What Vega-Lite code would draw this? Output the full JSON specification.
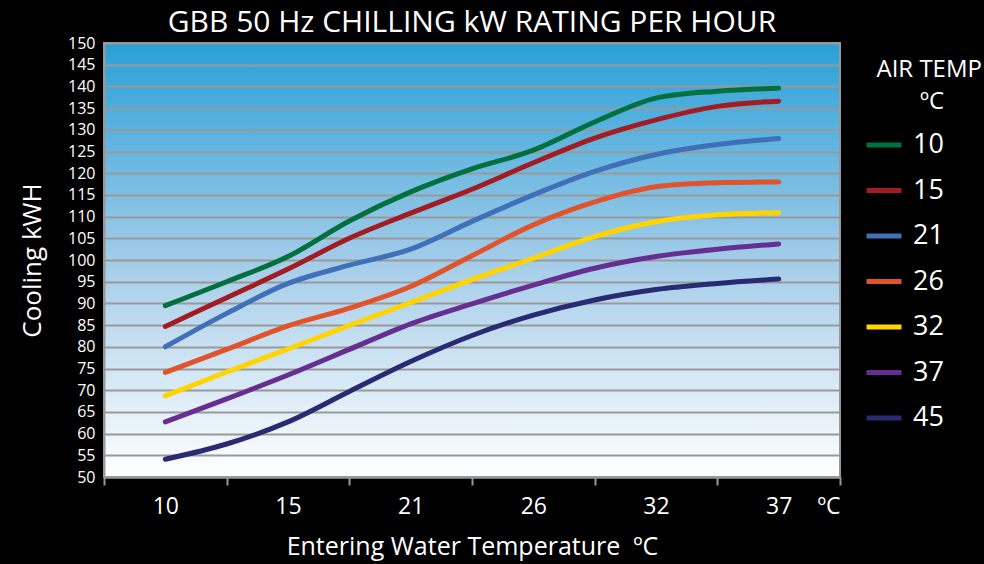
{
  "$schema": "https://vega.github.io/schema/vega-lite/v6.json",
  "autosize": {"type": "none"},
  "width": 736,
  "height": 434,
  "padding": {"left": 104, "top": 43, "right": 144, "bottom": 87},
  "background": "#000000",
  "title": {
    "text": "GBB 50 Hz CHILLING kW RATING PER HOUR",
    "font": "Open Sans",
    "fontSize": 30,
    "fontWeight": "normal",
    "color": "#ffffff",
    "anchor": "middle",
    "frame": "group",
    "offset": 2,
    "dy": 5
  },
  "data": {
    "values": [
      {"series": "10", "wt": 0, "kw": 89.5}, {"series": "10", "wt": 0.5, "kw": 95.0}, {"series": "10", "wt": 1, "kw": 100.8}, {"series": "10", "wt": 1.5, "kw": 109.0}, {"series": "10", "wt": 2, "kw": 115.7}, {"series": "10", "wt": 2.5, "kw": 121.0}, {"series": "10", "wt": 3, "kw": 125.3}, {"series": "10", "wt": 3.5, "kw": 131.8}, {"series": "10", "wt": 4, "kw": 137.3}, {"series": "10", "wt": 4.5, "kw": 138.9}, {"series": "10", "wt": 5, "kw": 139.6},
      {"series": "15", "wt": 0, "kw": 84.7}, {"series": "15", "wt": 0.5, "kw": 91.3}, {"series": "15", "wt": 1, "kw": 97.9}, {"series": "15", "wt": 1.5, "kw": 105.0}, {"series": "15", "wt": 2, "kw": 110.8}, {"series": "15", "wt": 2.5, "kw": 116.3}, {"series": "15", "wt": 3, "kw": 122.4}, {"series": "15", "wt": 3.5, "kw": 128.1}, {"series": "15", "wt": 4, "kw": 132.3}, {"series": "15", "wt": 4.5, "kw": 135.4}, {"series": "15", "wt": 5, "kw": 136.6},
      {"series": "21", "wt": 0, "kw": 80.0}, {"series": "21", "wt": 0.5, "kw": 87.7}, {"series": "21", "wt": 1, "kw": 94.6}, {"series": "21", "wt": 1.5, "kw": 98.8}, {"series": "21", "wt": 2, "kw": 102.5}, {"series": "21", "wt": 2.5, "kw": 108.9}, {"series": "21", "wt": 3, "kw": 115.0}, {"series": "21", "wt": 3.5, "kw": 120.4}, {"series": "21", "wt": 4, "kw": 124.3}, {"series": "21", "wt": 4.5, "kw": 126.6}, {"series": "21", "wt": 5, "kw": 128.0},
      {"series": "26", "wt": 0, "kw": 74.1}, {"series": "26", "wt": 0.5, "kw": 79.4}, {"series": "26", "wt": 1, "kw": 84.8}, {"series": "26", "wt": 1.5, "kw": 88.9}, {"series": "26", "wt": 2, "kw": 93.9}, {"series": "26", "wt": 2.5, "kw": 101.0}, {"series": "26", "wt": 3, "kw": 108.1}, {"series": "26", "wt": 3.5, "kw": 113.4}, {"series": "26", "wt": 4, "kw": 116.9}, {"series": "26", "wt": 4.5, "kw": 117.8}, {"series": "26", "wt": 5, "kw": 118.0},
      {"series": "32", "wt": 0, "kw": 68.7}, {"series": "32", "wt": 0.5, "kw": 74.2}, {"series": "32", "wt": 1, "kw": 79.5}, {"series": "32", "wt": 1.5, "kw": 84.9}, {"series": "32", "wt": 2, "kw": 90.2}, {"series": "32", "wt": 2.5, "kw": 95.5}, {"series": "32", "wt": 3, "kw": 100.4}, {"series": "32", "wt": 3.5, "kw": 105.4}, {"series": "32", "wt": 4, "kw": 108.8}, {"series": "32", "wt": 4.5, "kw": 110.4}, {"series": "32", "wt": 5, "kw": 110.9},
      {"series": "37", "wt": 0, "kw": 62.7}, {"series": "37", "wt": 0.5, "kw": 68.0}, {"series": "37", "wt": 1, "kw": 73.5}, {"series": "37", "wt": 1.5, "kw": 79.4}, {"series": "37", "wt": 2, "kw": 85.3}, {"series": "37", "wt": 2.5, "kw": 89.9}, {"series": "37", "wt": 3, "kw": 94.2}, {"series": "37", "wt": 3.5, "kw": 98.1}, {"series": "37", "wt": 4, "kw": 100.8}, {"series": "37", "wt": 4.5, "kw": 102.5}, {"series": "37", "wt": 5, "kw": 103.7},
      {"series": "45", "wt": 0, "kw": 54.1}, {"series": "45", "wt": 0.5, "kw": 57.6}, {"series": "45", "wt": 1, "kw": 62.7}, {"series": "45", "wt": 1.5, "kw": 69.7}, {"series": "45", "wt": 2, "kw": 76.6}, {"series": "45", "wt": 2.5, "kw": 82.6}, {"series": "45", "wt": 3, "kw": 87.3}, {"series": "45", "wt": 3.5, "kw": 90.8}, {"series": "45", "wt": 4, "kw": 93.2}, {"series": "45", "wt": 4.5, "kw": 94.6}, {"series": "45", "wt": 5, "kw": 95.6}
    ]
  },
  "mark": {"type": "line", "interpolate": "monotone", "strokeWidth": 5, "strokeCap": "round", "clip": true},
  "encoding": {
    "x": {
      "field": "wt",
      "type": "quantitative",
      "scale": {"domain": [-0.5, 5.5], "nice": false, "zero": false},
      "axis": {
        "title": "Entering Water Temperature \u00a0ºC",
        "values": [-0.5, 0, 0.5, 1, 1.5, 2, 2.5, 3, 3.5, 4, 4.5, 5, 5.5],
        "labelExpr": "datum.value == 5.5 ? 'ºC' : (datum.value % 1 == 0 ? ['10','15','21','26','32','37'][datum.value] : '')",
        "labelOverlap": false,
        "labelFlush": true,
        "grid": false,
        "domainColor": "#999999",
        "domainWidth": 2,
        "tickColor": "#999999",
        "tickWidth": 2,
        "tickSize": 8,
        "tickOpacity": {"condition": {"test": "datum.value % 1 == 0", "value": 0}, "value": 1},
        "labelFontSize": 23,
        "labelPadding": 10,
        "titleFontSize": 25,
        "titlePadding": 16
      }
    },
    "y": {
      "field": "kw",
      "type": "quantitative",
      "scale": {"domain": [50, 150], "nice": false, "zero": false},
      "axis": {
        "title": "Cooling kWH",
        "values": [50, 55, 60, 65, 70, 75, 80, 85, 90, 95, 100, 105, 110, 115, 120, 125, 130, 135, 140, 145, 150],
        "ticks": false,
        "labelPadding": 9,
        "labelFontSize": 16,
        "domainColor": "#999999",
        "domainWidth": 2,
        "grid": true,
        "gridColor": "#999999",
        "gridWidth": 2,
        "titleFontSize": 26,
        "titlePadding": 22
      }
    },
    "color": {
      "field": "series",
      "type": "nominal",
      "scale": {
        "domain": ["10", "15", "21", "26", "32", "37", "45"],
        "range": ["#00703f", "#a21d23", "#3f70b9", "#e1532b", "#ffd400", "#662e91", "#2a2a72"]
      },
      "legend": {
        "title": ["\u200b\u00a0\u00a0AIR TEMP", "\u200b\u00a0\u00a0\u00a0\u00a0\u00a0\u00a0\u00a0\u00a0\u00a0ºC"],
        "orient": "none",
        "legendX": 760,
        "legendY": 15
      }
    }
  },
  "config": {
    "font": "Open Sans",
    "view": {
      "fill": {
        "gradient": "linear",
        "x1": 0, "y1": 0, "x2": 0, "y2": 1,
        "stops": [
          {"offset": 0, "color": "#29a0d7"},
          {"offset": 0.5, "color": "#a3cce9"},
          {"offset": 1, "color": "#ffffff"}
        ]
      },
      "stroke": "#999999",
      "strokeWidth": 2
    },
    "axis": {
      "labelColor": "#ffffff",
      "titleColor": "#ffffff",
      "labelFont": "Open Sans",
      "titleFont": "Open Sans",
      "titleFontWeight": "normal"
    },
    "legend": {
      "symbolType": "stroke",
      "symbolStrokeWidth": 5,
      "symbolSize": 1225,
      "labelFontSize": 27,
      "labelColor": "#ffffff",
      "labelOffset": 9,
      "titleColor": "#ffffff",
      "titleFontSize": 24,
      "titleFontWeight": "normal",
      "titleFont": "Open Sans",
      "labelFont": "Open Sans",
      "titleAlign": "left",
      "titleAnchor": "start",
      "titleLineHeight": 32,
      "titlePadding": 11,
      "titleLimit": 200,
      "rowPadding": 12.5,
      "padding": 0
    }
  }
}
